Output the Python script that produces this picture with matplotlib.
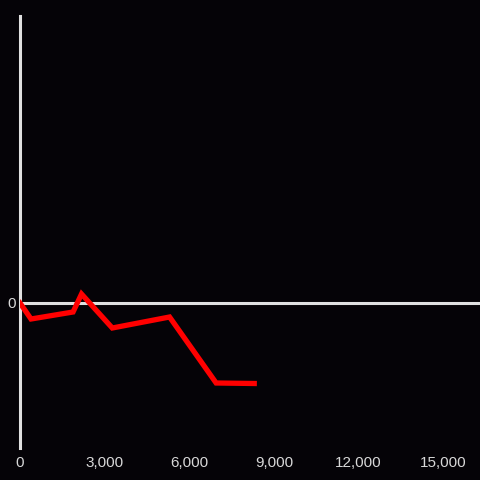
import matplotlib
matplotlib.use("Agg")
from matplotlib import pyplot as plt
from matplotlib.ticker import FuncFormatter

# data (y in arbitrary units, only 0 is labelled)
xs = [0, 390, 1880, 2180, 3270, 5300, 6950, 8300]
ys = [0, -16, -9, 9, -25, -14, -80, -80.5]
xticks = [0, 3000, 6000, 9000, 12000, 15000]

bg = "#050307"
axis_col = "#e0e0e0"
text_col = "#d8d8d8"

plt.rcParams["font.family"] = ["Liberation Sans", "DejaVu Sans"]

fig = plt.figure(figsize=(4.8, 4.8), dpi=100, facecolor=bg)
ax = fig.add_axes([20 / 480, 32 / 480, 460 / 480, 432 / 480], facecolor=bg)

ax.plot(xs, ys, color="#ff0000", lw=3.8, solid_joinstyle="miter", zorder=3)
ax.axhline(0, color=axis_col, lw=2.2, zorder=2)

ax.set_xlim(0, 16300)
ax.set_ylim(-145, 287)

for s in ["top", "right", "bottom"]:
    ax.spines[s].set_visible(False)
ax.spines["left"].set_color(axis_col)
ax.spines["left"].set_linewidth(2.2)

ax.set_xticks(xticks)
ax.xaxis.set_major_formatter(FuncFormatter(lambda v, p: f"{int(v):,}"))
ax.set_yticks([0])
ax.tick_params(axis="x", length=0, pad=5.5, colors=text_col, labelsize=11)
ax.tick_params(axis="y", length=0, pad=3, colors=text_col, labelsize=11)

fig.savefig("out.png", dpi=100, facecolor=bg)
